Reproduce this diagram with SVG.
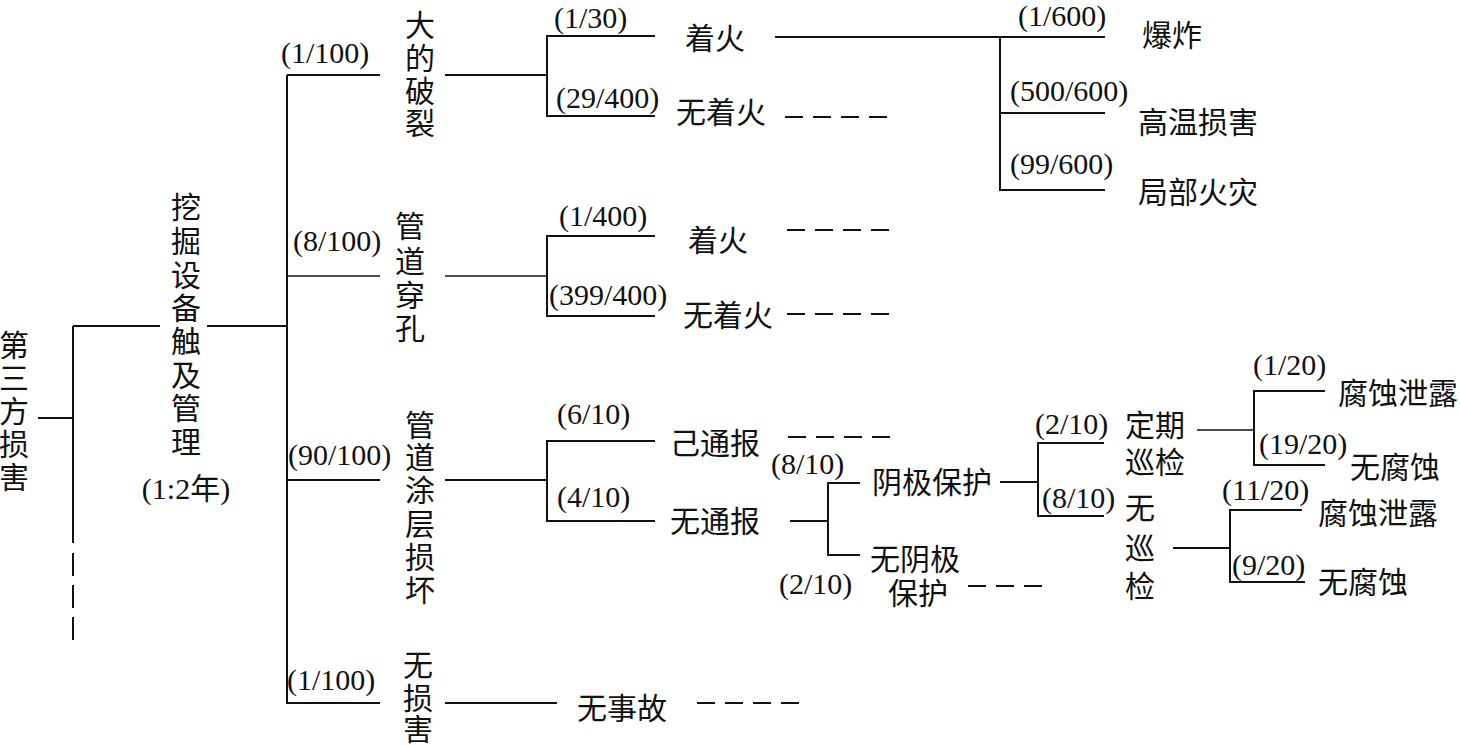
<svg xmlns="http://www.w3.org/2000/svg" width="1460" height="745" viewBox="0 0 1460 745">
<style>
.t{font-family:"Liberation Serif","Noto Sans CJK SC",serif;font-size:30px;fill:#111;dominant-baseline:central}
.m{text-anchor:middle}
.c line{stroke:#111;stroke-width:2}
.c .d{stroke-dasharray:18 10}
</style>
<rect width="1460" height="745" fill="#fff"/>
<g id="connectors" class="c">
<line x1="38" y1="418" x2="73" y2="418"/>
<line x1="73" y1="326" x2="73" y2="543"/>
<line x1="73" y1="553" x2="73" y2="642" style="stroke-dasharray:23 9"/>
<line x1="73" y1="326" x2="160" y2="326"/>
<line x1="207" y1="326" x2="287" y2="326"/>
<line x1="287" y1="75" x2="287" y2="704"/>
<line x1="287" y1="75" x2="380" y2="75"/>
<line x1="287" y1="276" x2="380" y2="276" style="stroke-width:1.4"/>
<line x1="287" y1="480" x2="380" y2="480"/>
<line x1="287" y1="703" x2="380" y2="703"/>
<line x1="445" y1="75" x2="547" y2="75"/>
<line x1="547" y1="35" x2="547" y2="117"/>
<line x1="547" y1="36" x2="655" y2="36"/>
<line x1="547" y1="116" x2="655" y2="116"/>
<line x1="445" y1="276" x2="547" y2="276" style="stroke-width:1.4"/>
<line x1="547" y1="235" x2="547" y2="317"/>
<line x1="547" y1="236" x2="655" y2="236"/>
<line x1="547" y1="316" x2="655" y2="316"/>
<line x1="445" y1="480" x2="547" y2="480"/>
<line x1="547" y1="440" x2="547" y2="522"/>
<line x1="547" y1="441" x2="655" y2="441"/>
<line x1="547" y1="521" x2="655" y2="521"/>
<line x1="445" y1="703" x2="557" y2="703"/>
<line x1="775" y1="37" x2="1105" y2="37"/>
<line x1="1000" y1="37" x2="1000" y2="191"/>
<line x1="1000" y1="113" x2="1105" y2="113"/>
<line x1="1000" y1="190" x2="1105" y2="190"/>
<line class="d" x1="785" y1="117" x2="888" y2="117"/>
<line class="d" x1="787" y1="230" x2="890" y2="230"/>
<line class="d" x1="787" y1="314" x2="890" y2="314"/>
<line class="d" x1="788" y1="437" x2="890" y2="437"/>
<line class="d" x1="968" y1="586" x2="1045" y2="586"/>
<line class="d" x1="697" y1="703" x2="800" y2="703"/>
<line x1="790" y1="521" x2="828" y2="521"/>
<line x1="828" y1="482" x2="828" y2="556"/>
<line x1="828" y1="483" x2="860" y2="483"/>
<line x1="828" y1="555" x2="860" y2="555"/>
<line x1="1000" y1="482" x2="1038" y2="482"/>
<line x1="1038" y1="442" x2="1038" y2="517"/>
<line x1="1038" y1="443" x2="1104" y2="443"/>
<line x1="1038" y1="516" x2="1104" y2="516"/>
<line x1="1197" y1="430" x2="1254" y2="430" style="stroke-width:1.4"/>
<line x1="1254" y1="390" x2="1254" y2="466"/>
<line x1="1254" y1="391" x2="1325" y2="391"/>
<line x1="1254" y1="465" x2="1325" y2="465"/>
<line x1="1173" y1="548" x2="1230" y2="548"/>
<line x1="1230" y1="509" x2="1230" y2="583"/>
<line x1="1230" y1="510" x2="1302" y2="510"/>
<line x1="1230" y1="582" x2="1305" y2="582"/>
</g>
<g id="n-root"><text class="t m"><tspan x="14" y="345">第</tspan><tspan x="14" y="378">三</tspan><tspan x="14" y="411">方</tspan><tspan x="14" y="444">损</tspan><tspan x="14" y="477">害</tspan></text></g>
<g id="n-dig"><text class="t m"><tspan x="186" y="207">挖</tspan><tspan x="186" y="241">掘</tspan><tspan x="186" y="275">设</tspan><tspan x="186" y="308">备</tspan><tspan x="186" y="341">触</tspan><tspan x="186" y="375">及</tspan><tspan x="186" y="408">管</tspan><tspan x="186" y="442">理</tspan></text><text class="t m" x="186" y="488">(1:2年)</text></g>
<g id="n-big"><text class="t" x="281" y="52">(1/100)</text><text class="t m"><tspan x="420" y="25">大</tspan><tspan x="420" y="58">的</tspan><tspan x="420" y="91">破</tspan><tspan x="420" y="123">裂</tspan></text></g>
<g id="n-hole"><text class="t" x="293" y="240">(8/100)</text><text class="t m"><tspan x="410" y="226">管</tspan><tspan x="410" y="261">道</tspan><tspan x="410" y="295">穿</tspan><tspan x="410" y="328">孔</tspan></text></g>
<g id="n-coat"><text class="t" x="288" y="454">(90/100)</text><text class="t m"><tspan x="420" y="425">管</tspan><tspan x="420" y="457">道</tspan><tspan x="420" y="490">涂</tspan><tspan x="420" y="524">层</tspan><tspan x="420" y="557">损</tspan><tspan x="420" y="590">坏</tspan></text></g>
<g id="n-nodmg"><text class="t" x="287" y="679">(1/100)</text><text class="t m"><tspan x="418" y="665">无</tspan><tspan x="418" y="698">损</tspan><tspan x="418" y="729">害</tspan></text></g>
<g id="n-fire1"><text class="t" x="554" y="17">(1/30)</text><text class="t" x="685" y="38">着火</text></g>
<g id="n-nofire1"><text class="t" x="556" y="97">(29/400)</text><text class="t" x="676" y="112">无着火</text></g>
<g id="n-fire2"><text class="t" x="559" y="215">(1/400)</text><text class="t" x="688" y="240">着火</text></g>
<g id="n-nofire2"><text class="t" x="549" y="294">(399/400)</text><text class="t" x="683" y="315">无着火</text></g>
<g id="n-reported"><text class="t" x="557" y="413">(6/10)</text><text class="t" x="670" y="443">己通报</text></g>
<g id="n-unreported"><text class="t" x="557" y="496">(4/10)</text><text class="t" x="670" y="521">无通报</text></g>
<g id="n-noacc"><text class="t" x="577" y="708">无事故</text></g>
<g id="n-explode"><text class="t" x="1018" y="15">(1/600)</text><text class="t" x="1142" y="35">爆炸</text></g>
<g id="n-heat"><text class="t" x="1010" y="90">(500/600)</text><text class="t" x="1138" y="122">高温损害</text></g>
<g id="n-localfire"><text class="t" x="1010" y="163">(99/600)</text><text class="t" x="1138" y="192">局部火灾</text></g>
<g id="n-cp"><text class="t" x="771" y="463">(8/10)</text><text class="t" x="872" y="482">阴极保护</text></g>
<g id="n-nocp"><text class="t" x="779" y="583">(2/10)</text><text class="t" x="870" y="559">无阴极</text><text class="t" x="888" y="593">保护</text></g>
<g id="n-insp"><text class="t" x="1035" y="423">(2/10)</text><text class="t" x="1125" y="425">定期</text><text class="t" x="1125" y="462">巡检</text></g>
<g id="n-noinsp"><text class="t" x="1042" y="497">(8/10)</text><text class="t m"><tspan x="1140" y="508">无</tspan><tspan x="1140" y="548">巡</tspan><tspan x="1140" y="586">检</tspan></text></g>
<g id="n-leak1"><text class="t" x="1253" y="364">(1/20)</text><text class="t" x="1338" y="393">腐蚀泄露</text></g>
<g id="n-nocorr1"><text class="t" x="1259" y="443">(19/20)</text><text class="t" x="1350" y="467">无腐蚀</text></g>
<g id="n-leak2"><text class="t" x="1222" y="489">(11/20)</text><text class="t" x="1318" y="513">腐蚀泄露</text></g>
<g id="n-nocorr2"><text class="t" x="1232" y="564">(9/20)</text><text class="t" x="1318" y="582">无腐蚀</text></g>
</svg>
